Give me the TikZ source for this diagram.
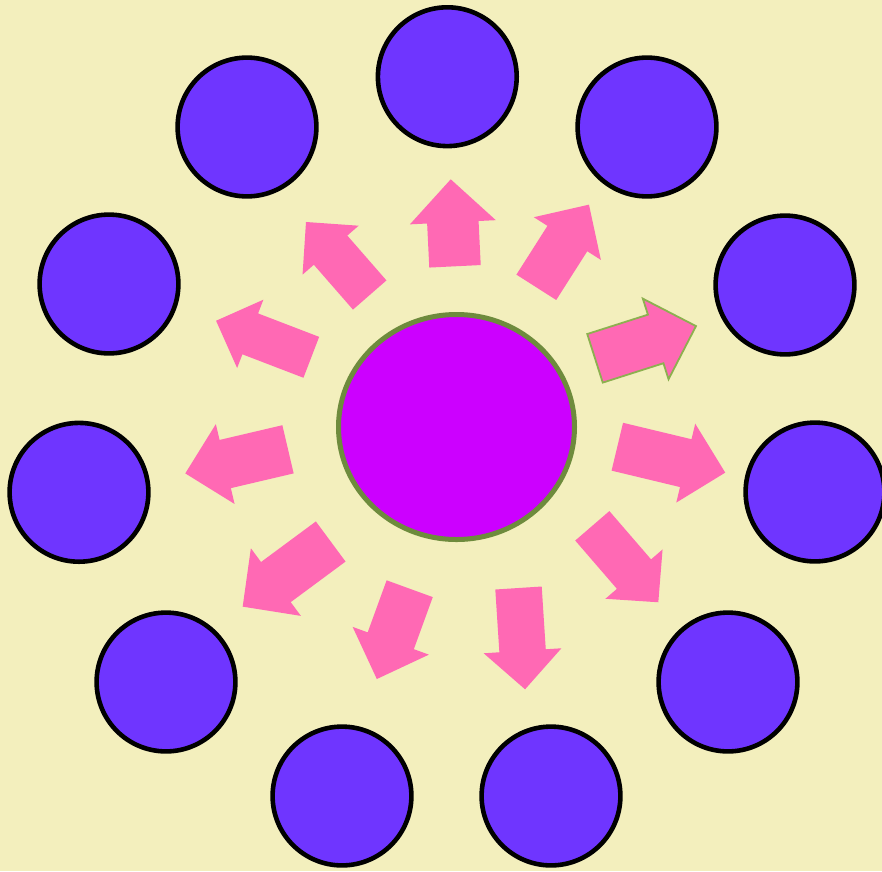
\documentclass[tikz,border=0pt]{standalone}
\usetikzlibrary{shapes.geometric}
\definecolor{bgyellow}{HTML}{F3EFBD}
\definecolor{outerfill}{HTML}{6F35FF}
\definecolor{centerfill}{HTML}{CC00FF}
\definecolor{centerline}{HTML}{6E8B3D}
\definecolor{arrowpink}{HTML}{FF69B4}
\definecolor{arrowedge}{HTML}{8DB050}
\tikzset{
  outercirc/.style={circle, draw=black, line width=4.6pt, fill=outerfill, minimum size=138.8pt, inner sep=0pt},
  centercirc/.style={ellipse, draw=centerline, line width=5pt, fill=centerfill, minimum width=236pt, minimum height=225pt, inner sep=0pt},
  pinkarrow/.style={fill=arrowpink, draw=none},
  pinkarrowedged/.style={fill=arrowpink, draw=arrowedge, line width=1.8pt, line join=miter}
}
% #1 style, #2 x, #3 y, #4 angle, #5 length, #6 shaft width, #7 head width, #8 head length
\newcommand{\blockarrowshape}[8]{%
  \begin{scope}[shift={(#2,#3)}, rotate=#4]
    \path[#1] (0,{-#6/2}) -- ({#5-#8},{-#6/2}) -- ({#5-#8},{-#7/2}) -- (#5,0)
      -- ({#5-#8},{#7/2}) -- ({#5-#8},{#6/2}) -- (0,{#6/2}) -- cycle;
  \end{scope}}
\begin{document}
\begin{tikzpicture}[x=1pt,y=-1pt]
\fill[bgyellow] (0,0) rectangle (882,871);
\useasboundingbox (0,0) rectangle (882,871);

% outer circles
\node[outercirc] (c1) at (447.3,76.7) {};
\node[outercirc] (c2) at (647,127) {};
\node[outercirc] (c3) at (785,285) {};
\node[outercirc] (c4) at (815,492) {};
\node[outercirc] (c5) at (728,682) {};
\node[outercirc] (c6) at (551,796) {};
\node[outercirc] (c7) at (342,796) {};
\node[outercirc] (c8) at (166,682) {};
\node[outercirc] (c9) at (79,492.3) {};
\node[outercirc] (c10) at (109,284) {};
\node[outercirc] (c11) at (247,127) {};

% center
\node[centercirc] (hub) at (456.5,427) {};

% arrows
\blockarrowshape{pinkarrow}{455}{266.3}{92.8}{87.1}{51.5}{86}{43}
\blockarrowshape{pinkarrow}{536.3}{287.3}{57.5}{98}{47.2}{79.5}{40.2}
\blockarrowshape{pinkarrowedged}{595}{358.3}{17.7}{106}{51}{84.6}{42.3}
\blockarrowshape{pinkarrow}{617.3}{446.7}{-13.5}{111}{49.2}{81.1}{40.6}
\blockarrowshape{pinkarrow}{592.3}{525.8}{-49.2}{101}{45.1}{75.5}{37.2}
\blockarrowshape{pinkarrow}{518.5}{588}{-86.3}{101.5}{46.5}{77.9}{38.6}
\blockarrowshape{pinkarrow}{409.7}{588.7}{250}{96.1}{49.1}{81.1}{40.7}
\blockarrowshape{pinkarrow}{330.7}{541.5}{216.5}{109.5}{49.9}{84.1}{41.3}
\blockarrowshape{pinkarrow}{288}{449.3}{193.2}{105.5}{49.5}{82}{41}
\blockarrowshape{pinkarrow}{311.3}{357.3}{159}{102}{43.8}{73.2}{36.6}
\blockarrowshape{pinkarrow}{369.7}{295}{131.1}{96.9}{44.4}{74.4}{37.4}
\end{tikzpicture}
\end{document}
